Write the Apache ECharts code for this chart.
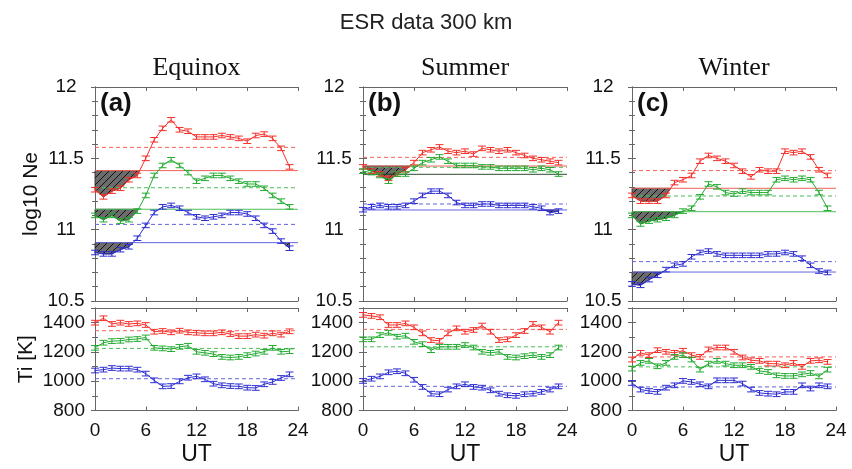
<!DOCTYPE html>
<html>
<head>
<meta charset="utf-8">
<script src="https://cdn.jsdelivr.net/npm/echarts@6/dist/echarts.min.js"></script>
<style>
  html, body { margin: 0; padding: 0; background: #fff; }
  #chart { width: 852px; height: 469px; }
</style>
</head>
<body>
<div id="chart"></div>
<script>
// hourly UT bins
const hours = [0, 1, 2, 3, 4, 5, 6, 7, 8, 9, 10, 11, 12, 13, 14, 15, 16, 17, 18, 19, 20, 21, 22, 23];
const utRange = [0, 24];

// log10 Ne, equinox / summer / winter (red, green, blue)
const neEqR = [11.28, 11.23, 11.27, 11.29, 11.35, 11.38, 11.50, 11.63, 11.71, 11.77, 11.70, 11.69, 11.65, 11.65, 11.65, 11.66, 11.65, 11.64, 11.62, 11.66, 11.67, 11.64, 11.57, 11.44];
const neEqG = [11.10, 11.07, 11.10, 11.06, 11.07, 11.13, 11.24, 11.38, 11.45, 11.49, 11.45, 11.40, 11.34, 11.36, 11.38, 11.38, 11.36, 11.34, 11.32, 11.32, 11.29, 11.24, 11.20, 11.16];
const neEqB = [10.84, 10.83, 10.83, 10.86, 10.88, 10.94, 11.03, 11.12, 11.16, 11.17, 11.15, 11.12, 11.09, 11.08, 11.09, 11.10, 11.12, 11.12, 11.11, 11.08, 11.03, 10.99, 10.92, 10.87];
const neSuR = [11.44, 11.41, 11.39, 11.36, 11.39, 11.42, 11.47, 11.54, 11.56, 11.58, 11.55, 11.54, 11.55, 11.53, 11.57, 11.56, 11.55, 11.56, 11.54, 11.52, 11.50, 11.49, 11.48, 11.47];
const neSuG = [11.41, 11.40, 11.38, 11.34, 11.39, 11.39, 11.43, 11.47, 11.49, 11.51, 11.48, 11.45, 11.45, 11.45, 11.44, 11.44, 11.43, 11.43, 11.43, 11.43, 11.42, 11.43, 11.42, 11.39];
const neSuB = [11.14, 11.16, 11.17, 11.16, 11.16, 11.17, 11.20, 11.24, 11.27, 11.27, 11.24, 11.19, 11.17, 11.17, 11.18, 11.18, 11.17, 11.17, 11.17, 11.17, 11.16, 11.15, 11.12, 11.13];
const neWiR = [11.24, 11.20, 11.20, 11.20, 11.24, 11.33, 11.35, 11.38, 11.48, 11.52, 11.50, 11.48, 11.45, 11.41, 11.37, 11.42, 11.41, 11.41, 11.55, 11.54, 11.55, 11.51, 11.42, 11.38];
const neWiG = [11.10, 11.04, 11.06, 11.07, 11.08, 11.10, 11.13, 11.15, 11.23, 11.32, 11.30, 11.26, 11.25, 11.27, 11.26, 11.26, 11.26, 11.35, 11.36, 11.35, 11.36, 11.35, 11.26, 11.15];
const neWiB = [10.62, 10.61, 10.65, 10.68, 10.72, 10.75, 10.76, 10.81, 10.84, 10.85, 10.83, 10.82, 10.82, 10.82, 10.82, 10.82, 10.83, 10.83, 10.84, 10.83, 10.80, 10.75, 10.71, 10.70];

// reference levels (red, green, blue): solid and dashed
const neEqSolid = [11.414, 11.143, 10.909];
const neEqDash = [11.577, 11.294, 11.037];
const neSuSolid = [11.446, 11.388, 11.138];
const neSuDash = [11.507, 11.437, 11.180];
const neWiSolid = [11.290, 11.126, 10.703];
const neWiDash = [11.414, 11.236, 10.776];

// Ti [K]
const tiEqR = [1400, 1430, 1391, 1400, 1391, 1395, 1384, 1338, 1343, 1334, 1345, 1334, 1331, 1327, 1327, 1334, 1322, 1308, 1308, 1318, 1311, 1327, 1318, 1341];
const tiEqG = [1228, 1263, 1274, 1276, 1285, 1288, 1299, 1228, 1224, 1219, 1235, 1242, 1201, 1194, 1185, 1166, 1162, 1166, 1178, 1189, 1201, 1228, 1201, 1205];
const tiEqB = [1073, 1079, 1090, 1086, 1086, 1079, 1052, 1006, 965, 967, 999, 1024, 1033, 1013, 983, 972, 967, 965, 956, 954, 979, 995, 1022, 1047];
const tiSuR = [1453, 1446, 1437, 1384, 1384, 1395, 1368, 1327, 1281, 1276, 1327, 1361, 1338, 1350, 1380, 1338, 1281, 1286, 1315, 1343, 1391, 1368, 1338, 1400];
const tiSuG = [1286, 1286, 1315, 1331, 1304, 1311, 1269, 1253, 1212, 1235, 1235, 1235, 1247, 1230, 1201, 1194, 1201, 1166, 1162, 1171, 1178, 1166, 1178, 1230];
const tiSuB = [1002, 1017, 1033, 1061, 1068, 1054, 1010, 961, 915, 911, 943, 965, 979, 961, 956, 938, 915, 904, 900, 911, 915, 927, 943, 965];
const tiWiR = [1148, 1194, 1178, 1212, 1201, 1194, 1208, 1178, 1166, 1217, 1230, 1230, 1201, 1162, 1143, 1139, 1120, 1120, 1109, 1125, 1098, 1139, 1143, 1132];
const tiWiG = [1086, 1125, 1139, 1102, 1125, 1166, 1178, 1148, 1079, 1120, 1139, 1120, 1109, 1109, 1098, 1070, 1063, 1040, 1036, 1036, 1047, 1056, 1033, 1079];
const tiWiB = [988, 943, 933, 927, 956, 972, 1002, 995, 979, 965, 1006, 1006, 1006, 984, 943, 920, 915, 911, 927, 927, 972, 950, 972, 965];
const tiEqDash = [1345, 1224, 1017];
const tiSuDash = [1354, 1235, 965];
const tiWiDash = [1166, 1098, 961];

// error bar half widths
const neErr = 0.016;
const tiErr = 16;

const seasons = ['Equinox', 'Summer', 'Winter'];
const tags = ['(a)', '(b)', '(c)'];
const neTicks = [10.5, 12, 0.5];
const tiTicks = [800, 1500, 200];

const SANS = "'Liberation Sans', Arial, sans-serif";
const SERIF = "'Liberation Serif', 'Times New Roman', serif";
const colors = ['#f5302a', '#22ab30', '#2d2dd2'];
const refColors = ['#f4605a', '#4cbf58', '#6464e0'];
const boxColor = '#666';

const neSets = [[neEqR, neEqG, neEqB], [neSuR, neSuG, neSuB], [neWiR, neWiG, neWiB]];
const neSolids = [neEqSolid, neSuSolid, neWiSolid];
const neDashes = [neEqDash, neSuDash, neWiDash];
const tiSets = [[tiEqR, tiEqG, tiEqB], [tiSuR, tiSuG, tiSuB], [tiWiR, tiWiG, tiWiB]];
const tiDashes = [tiEqDash, tiSuDash, tiWiDash];

const lefts = [95, 363, 632];
const widths = [203, 204, 204];

// gray tile with "/" hatching
function hatchTile() {
  const c = document.createElement('canvas');
  c.width = 7; c.height = 7;
  const g = c.getContext('2d');
  g.fillStyle = '#6c6c6c';
  g.fillRect(0, 0, 7, 7);
  g.strokeStyle = '#111';
  g.lineWidth = 1;
  g.beginPath();
  g.moveTo(0, 7); g.lineTo(7, 0);
  g.moveTo(-1, 1); g.lineTo(1, -1);
  g.moveTo(6, 8); g.lineTo(8, 6);
  g.stroke();
  return c;
}
const tile = hatchTile();

// stretches where a curve sits under its reference level
function belowRuns(vals, ref) {
  const polys = [];
  let cur = null;
  for (let i = 0; i < vals.length; i++) {
    const v = vals[i];
    if (v < ref) {
      if (!cur) {
        cur = [];
        if (i > 0) {
          const p = vals[i - 1];
          cur.push([hours[i - 1] + (p - ref) / (p - v), ref]);
        } else {
          cur.push([hours[0], ref]);
        }
      }
      cur.push([hours[i], v]);
    } else if (cur) {
      const p = vals[i - 1];
      cur.push([hours[i - 1] + (ref - p) / (v - p), ref]);
      polys.push(cur);
      cur = null;
    }
  }
  if (cur) {
    cur.push([hours[vals.length - 1], ref]);
    polys.push(cur);
  }
  return polys;
}

function lineSeries(gi, vals, color) {
  return {
    type: 'line',
    xAxisIndex: gi * 2, yAxisIndex: gi * 2,
    data: vals.map((v, i) => [hours[i], v]),
    showSymbol: false,
    lineStyle: { color: color, width: 1 },
    z: 3,
    silent: true
  };
}

// horizontal reference level across the whole UT range
function refSeries(gi, level, color, dashed) {
  return {
    type: 'line',
    xAxisIndex: gi * 2, yAxisIndex: gi * 2,
    data: utRange.map(t => [t, level]),
    showSymbol: false,
    lineStyle: { color: color, width: 1, type: dashed ? [4, 3] : 'solid' },
    z: 2,
    silent: true
  };
}

function errSeries(gi, vals, err, color) {
  return {
    type: 'custom',
    xAxisIndex: gi * 2, yAxisIndex: gi * 2,
    data: vals.map((v, i) => [hours[i], v]),
    silent: true,
    clip: false,
    z: 4,
    renderItem: function (params, api) {
      const t = api.value(0), v = api.value(1);
      const hi = api.coord([t, v + err]);
      const lo = api.coord([t, v - err]);
      const w = 4;
      const st = { stroke: color, lineWidth: 1 };
      return {
        type: 'group',
        children: [
          { type: 'line', shape: { x1: hi[0], y1: hi[1], x2: lo[0], y2: lo[1] }, style: st },
          { type: 'line', shape: { x1: hi[0] - w, y1: hi[1], x2: hi[0] + w, y2: hi[1] }, style: st },
          { type: 'line', shape: { x1: lo[0] - w, y1: lo[1], x2: lo[0] + w, y2: lo[1] }, style: st }
        ]
      };
    }
  };
}

function hatchSeries(gi, vals, ref) {
  const polys = belowRuns(vals, ref);
  return {
    type: 'custom',
    xAxisIndex: gi * 2, yAxisIndex: gi * 2,
    data: [[hours[0], ref]],
    silent: true,
    z: 1,
    renderItem: function (params, api) {
      return {
        type: 'group',
        children: polys.map(p => ({
          type: 'polygon',
          shape: { points: p.map(q => api.coord(q)) },
          style: { fill: { image: tile, repeat: 'repeat' }, stroke: '#222', lineWidth: 0.8 }
        }))
      };
    }
  };
}

const grids = [], xAxes = [], yAxes = [], series = [];

function addPanel(row, col) {
  const gi = row * 3 + col;
  const isNe = row === 0;
  grids.push({
    left: lefts[col], width: widths[col],
    top: isNe ? 87 : 308, height: isNe ? 214 : 102.5
  });
  const xBase = {
    type: 'value', gridIndex: gi, min: 0, max: 24, interval: 6,
    axisLine: { show: true, onZero: false, lineStyle: { color: boxColor, width: 1 } },
    axisTick: { show: true, inside: true, length: 4, lineStyle: { color: boxColor } },
    splitLine: { show: false }
  };
  xAxes.push(Object.assign({}, xBase, {
    position: 'bottom',
    axisLabel: {
      show: !isNe, margin: 11, color: '#111',
      fontFamily: SANS, fontSize: 19
    },
    name: isNe ? '' : 'UT',
    nameLocation: 'middle', nameGap: 33, nameMoveOverlap: false,
    nameTextStyle: { fontFamily: SANS, fontSize: 23, color: '#111' }
  }));
  xAxes.push(Object.assign({}, xBase, { position: 'top', axisLabel: { show: false } }));

  const tk = isNe ? neTicks : tiTicks;
  const yBase = {
    type: 'value', gridIndex: gi, min: tk[0], max: tk[1], interval: tk[2],
    axisLine: { show: true, lineStyle: { color: boxColor, width: 1 } },
    axisTick: { show: true, inside: true, length: 4, lineStyle: { color: boxColor } },
    minorTick: { show: true, splitNumber: isNe ? 5 : 2, length: 3, lineStyle: { color: boxColor } },
    splitLine: { show: false }
  };
  let yName = '';
  if (col === 0) yName = isNe ? 'log10 Ne' : 'Ti [K]';
  yAxes.push(Object.assign({}, yBase, {
    position: 'left',
    axisLabel: {
      color: '#111', fontFamily: SANS, fontSize: 19,
      align: isNe ? 'center' : 'right',
      margin: isNe ? 29 : 10,
      formatter: v => (!isNe && v > 1400) ? '' : String(v)
    },
    name: yName,
    nameLocation: 'middle', nameRotate: 90, nameMoveOverlap: false,
    nameGap: isNe ? 53 : 58,
    nameTextStyle: { fontFamily: SANS, fontSize: 21, color: '#111' }
  }));
  yAxes.push(Object.assign({}, yBase, { position: 'right', axisLabel: { show: false } }));

  const sets = isNe ? neSets[col] : tiSets[col];
  for (let k = 0; k < 3; k++) {
    const dash = isNe ? neDashes[col][k] : tiDashes[col][k];
    series.push(refSeries(gi, dash, refColors[k], true));
    if (isNe) {
      const solidColor = (col === 1 && k === 1) ? '#2f4a30' : refColors[k];
      series.push(refSeries(gi, neSolids[col][k], solidColor, false));
      series.push(hatchSeries(gi, sets[k], neSolids[col][k]));
    }
    series.push(lineSeries(gi, sets[k], colors[k]));
    series.push(errSeries(gi, sets[k], isNe ? neErr : tiErr, colors[k]));
  }
}

for (let r = 0; r < 2; r++) {
  for (let c = 0; c < 3; c++) addPanel(r, c);
}

const graphics = [];
for (let c = 0; c < 3; c++) {
  const mid = lefts[c] + widths[c] / 2;
  graphics.push({
    type: 'text', x: mid, y: 68, silent: true,
    style: {
      text: seasons[c], font: '26px ' + SERIF, fill: '#111',
      textAlign: 'center', textVerticalAlign: 'middle', align: 'center', verticalAlign: 'middle'
    }
  });
  graphics.push({
    type: 'text', x: lefts[c] + 5, y: 91, silent: true, z: 10,
    style: {
      text: tags[c], font: 'bold 26px ' + SANS, fill: '#111',
      textAlign: 'left', textVerticalAlign: 'top', align: 'left', verticalAlign: 'top'
    }
  });
}

const chart = echarts.init(document.getElementById('chart'));
chart.setOption({
  animation: false,
  backgroundColor: '#fff',
  title: {
    text: 'ESR data 300 km', left: 'center', top: 7,
    textStyle: { fontFamily: SANS, fontSize: 22, fontWeight: 'normal', color: '#222' }
  },
  grid: grids,
  xAxis: xAxes,
  yAxis: yAxes,
  graphic: graphics,
  series: series
});
</script>
</body>
</html>
